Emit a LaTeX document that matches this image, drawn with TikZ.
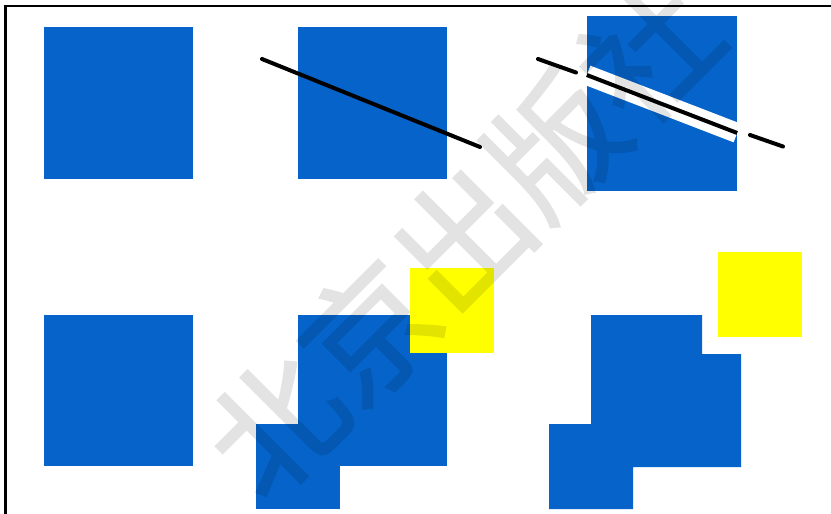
\documentclass[tikz,border=0pt]{standalone}
\usepackage{fontspec}
\newfontfamily\cjk[FakeBold=1.3]{Noto Sans CJK SC}
\usetikzlibrary{positioning,calc}
\definecolor{boxblue}{HTML}{0563C9}
\definecolor{boxyellow}{HTML}{FFFF00}
\definecolor{framegray}{HTML}{000000}
\tikzset{
  bluebox/.style={rectangle, fill=boxblue, inner sep=0pt,
    minimum width=149pt, minimum height=152pt},
  smallbox/.style={rectangle, fill=boxblue, inner sep=0pt,
    minimum width=84pt, minimum height=85pt},
  yellowbox/.style={rectangle, fill=boxyellow, inner sep=0pt,
    minimum width=84pt, minimum height=85pt},
  cutline/.style={line width=4pt, line cap=round, draw=black},
  halo/.style={line width=20pt, draw=white},
  watermark/.style={font=\cjk\fontsize{132}{132}\selectfont, text=black,
    inner sep=0pt}
}
\begin{document}
\begin{tikzpicture}[x=1pt,y=-1pt]
\useasboundingbox (0,0) rectangle (831,514);
\fill[white] (0,0) rectangle (831,514);
% frame
\draw[framegray, line width=2.2pt] (5.5,520) |- (840,6);
% top row
\node[bluebox] (sqA) at (118.5,103) {};
\node[bluebox] (sqB) at (372.5,103) {};
\coordinate (lineBs) at (262,59);
\coordinate (lineBe) at (480,147);
\draw[cutline] (lineBs) -- (lineBe);
\node[bluebox, minimum width=150pt, minimum height=175pt] (sqC) at (662,103.5) {};
\coordinate (cutL) at (sqC.west |- 0,75);
\coordinate (cutR) at (sqC.east |- 0,133);
\draw[halo] (cutL) -- (cutR);
\draw[cutline, line cap=butt] (cutL) -- (cutR);
\coordinate (dashAs) at (538,59);
\coordinate (dashAe) at (576,72.5);
\coordinate (dashBs) at (750,135);
\coordinate (dashBe) at (783,146.5);
\draw[cutline] (dashAs) -- (dashAe);
\draw[cutline] (dashBs) -- (dashBe);
% bottom row
\node[bluebox, minimum height=151pt] (sqD) at (118.5,390.5) {};
\node[bluebox, minimum height=151pt] (sqE) at (372.5,390.5) {};
\node[smallbox] (smE) at (298,466.5) {};
\node[yellowbox] (yeE) at (451.5,310.5) {};
% merged outline
\fill[boxblue] (591,315) -- (702,315) -- (702,354) -- (741,354) -- (741,467)
  -- (633,467) -- (633,509) -- (549,509) -- (549,424) -- (591,424) -- cycle;
\node[yellowbox] (yeF) at (760,294.5) {};
% watermark
\begin{scope}[transparency group, opacity=0.11]
\node[watermark, rotate=45] (mark) at (462,238) {北京出版社};
\end{scope}
\end{tikzpicture}
\end{document}
